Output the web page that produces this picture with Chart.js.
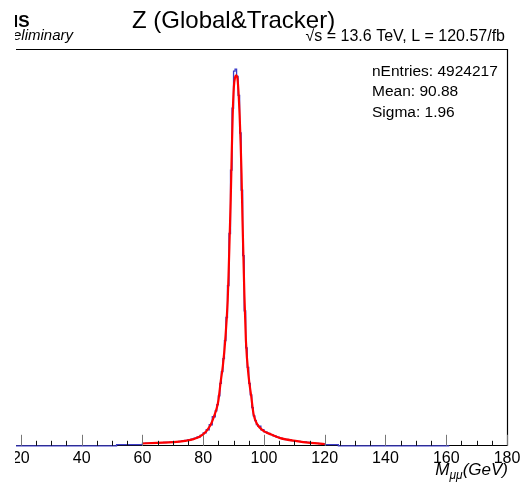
<!DOCTYPE html>
<html>
<head>
<meta charset="utf-8">
<script src="https://cdn.jsdelivr.net/npm/chart.js@4.4.1/dist/chart.umd.min.js"></script>
<style>
  html, body { margin: 0; padding: 0; background: #fff; }
  #zPlot { display: block; }
</style>
</head>
<body>
<canvas id="zPlot" width="521" height="485"></canvas>
<script>
/* ================= DATA ================= */
// blue histogram, thousands of events / GeV
// 1 GeV bins 60-84, 0.5 GeV bins 84-98, 1 GeV bins 98-120
const sideLowCounts = [
  4.7, 4.9, 5.2, 5.4, 5.8, 6.0, 6.2, 6.4, 6.8, 7.0,
  7.4, 8.0, 8.7, 9.5, 10.5, 11.7, 12.8, 14.8, 17.1, 20.4,
  24.9, 31.1, 40.8, 56.4
];
const peakCounts = [
  68, 80, 97, 121, 144, 169, 204, 249, 311, 412,
  535, 655, 727, 731, 717, 680, 607, 496, 369, 262,
  190, 152, 121, 99, 74, 58, 49, 41
];
const sideHighCounts = [
  37.9, 31.1, 27.2, 24.3, 21.8, 19.4, 16.9, 14.8, 13.4, 12.2,
  11.3, 10.1, 9.3, 8.6, 8.0, 7.4, 6.8, 6.0, 5.2, 4.7,
  4.1, 3.5
];
// tails outside the fit window (wider bins)
const lowTailEdges = [0, 51.5, 60];
const lowTailCounts = [0, 2.3];
const highTailEdges = [120, 124.5, 161];
const highTailCounts = [2.3, 0];

// red fit curve
const fitMass = [
  60, 64.7, 70.2, 74, 76.8, 80.1, 82.3, 83.4, 84.5, 85.0,
  85.8, 86.5, 87.25, 88.07, 88.4, 88.73, 89.06, 89.39, 89.72, 90.1,
  90.5, 90.9, 91.3, 91.7, 92.0, 92.36, 92.62, 92.95, 93.28, 93.57,
  94.07, 94.93, 95.8, 96.57, 97.69, 99.87, 102.08, 105.37, 110.87, 115.3, 120
];
const fitValue = [
  4.5, 5.8, 7.2, 9.7, 13, 22.7, 38.9, 54.4, 73.9, 87.5,
  126, 156, 204, 282, 340, 408, 476, 564, 642, 696,
  715, 719, 712, 680, 642, 583, 529, 437, 360, 292,
  204, 136, 97, 62, 43, 29, 22.7, 15, 9.1, 5.8, 3.5
];

const xTickLabels = [20, 40, 60, 80, 100, 120, 140, 160, 180];
const xMinorStep = 5;
const statLines = ["nEntries: 4924217", "Mean: 90.88", "Sigma: 1.96"];

/* ================= BUILD POINTS ================= */
const edges = [...lowTailEdges.slice(0, -1)];
sideLowCounts.forEach((_, i) => edges.push(60 + i));
peakCounts.forEach((_, i) => edges.push(84 + i * 0.5));
sideHighCounts.forEach((_, i) => edges.push(98 + i));
edges.push(...highTailEdges);
const counts = [...lowTailCounts, ...sideLowCounts, ...peakCounts, ...sideHighCounts, ...highTailCounts];

const histPoints = counts.map((c, i) => ({ x: edges[i], y: c }));
histPoints.push({ x: edges[edges.length - 1], y: counts[counts.length - 1] });

const fitPoints = fitMass.map((m, i) => ({ x: m, y: fitValue[i] }));

const FONT = '"Liberation Sans", Arial, Helvetica, sans-serif';

/* ================= DECORATION PLUGIN ================= */
const rootDecor = {
  id: "rootDecor",
  afterDraw(chart) {
    const { ctx, chartArea: a, scales: { x } } = chart;
    ctx.save();

    // frame top + right
    ctx.strokeStyle = "#000";
    ctx.lineWidth = 1.2;
    ctx.beginPath();
    ctx.moveTo(a.left, a.top + 0.5);
    ctx.lineTo(a.right + 0.5, a.top + 0.5);
    ctx.lineTo(a.right + 0.5, a.bottom);
    ctx.stroke();

    // ticks pointing inward
    for (let v = xTickLabels[0]; v <= xTickLabels[xTickLabels.length - 1]; v += xMinorStep) {
      const px = Math.round(x.getPixelForValue(v)) + 0.5;
      const major = xTickLabels.includes(v);
      ctx.strokeStyle = major ? "#777" : "#111";
      ctx.lineWidth = 1;
      ctx.beginPath();
      ctx.moveTo(px, a.bottom);
      ctx.lineTo(px, a.bottom - (major ? 11 : 5));
      ctx.stroke();
    }

    // title
    ctx.fillStyle = "#000";
    ctx.textBaseline = "alphabetic";
    ctx.textAlign = "left";
    ctx.font = "24px " + FONT;
    ctx.fillText("Z (Global&Tracker)", 132, 28);

    // CMS label (cropped on the left in the original)
    ctx.textAlign = "right";
    ctx.font = "bold 17px " + FONT;
    ctx.fillText("CMS", 29.5, 27);
    ctx.font = "italic 15px " + FONT;
    ctx.fillText("Preliminary", 73, 40);

    // energy / lumi
    ctx.font = "16px " + FONT;
    ctx.fillText("\u221As = 13.6 TeV, L = 120.57/fb", 505, 41);

    // stats
    ctx.textAlign = "left";
    ctx.font = "15.5px " + FONT;
    statLines.forEach((s, i) => ctx.fillText(s, 372, 75.5 + i * 20.7));

    // axis title M_mumu(GeV)
    ctx.font = "italic 17px " + FONT;
    const wM = ctx.measureText("M").width;
    const wG = ctx.measureText("(GeV)").width;
    ctx.font = "italic 12px " + FONT;
    const wS = ctx.measureText("\u03bc\u03bc").width;
    let tx = 508 - (wM + wS + wG);
    ctx.font = "italic 17px " + FONT;
    ctx.fillText("M", tx, 475);
    tx += wM;
    ctx.font = "italic 12px " + FONT;
    ctx.fillText("\u03bc\u03bc", tx, 479);
    tx += wS;
    ctx.font = "italic 17px " + FONT;
    ctx.fillText("(GeV)", tx, 475);

    // left crop strip
    ctx.fillStyle = "#fff";
    ctx.fillRect(0, 0, 15, chart.height);
    ctx.restore();
  }
};

/* ================= CHART ================= */
new Chart(document.getElementById("zPlot"), {
  type: "line",
  data: {
    datasets: [
      {
        label: "fit",
        data: fitPoints,
        borderColor: "#ff0000",
        borderWidth: 2.2,
        pointRadius: 0,
        cubicInterpolationMode: "monotone",
        clip: { left: 0, top: 0, right: 0, bottom: 3 }
      },
      {
        label: "data",
        data: histPoints,
        borderColor: "#3c3cc8",
        borderWidth: 1.3,
        pointRadius: 0,
        stepped: "before",
        clip: { left: 0, top: 0, right: 0, bottom: 3 }
      }
    ]
  },
  options: {
    responsive: false,
    animation: false,
    devicePixelRatio: 1,
    layout: { padding: { left: 16, right: 14, top: 49, bottom: 14 } },
    plugins: { legend: { display: false }, tooltip: { enabled: false } },
    scales: {
      x: {
        type: "linear",
        min: 18.4,
        max: 180,
        afterBuildTicks: (s) => { s.ticks = xTickLabels.map(v => ({ value: v })); },
        afterFit: (s) => { s.paddingLeft = 0; s.paddingRight = 0; },
        ticks: {
          color: "#000",
          font: { family: FONT, size: 16 },
          padding: 3,
          maxRotation: 0,
          autoSkip: false
        },
        grid: { display: false, drawTicks: false },
        border: { display: true, color: "#000", width: 1 }
      },
      y: { display: false, min: 0, max: 770 }
    }
  },
  plugins: [rootDecor]
});
</script>
</body>
</html>
